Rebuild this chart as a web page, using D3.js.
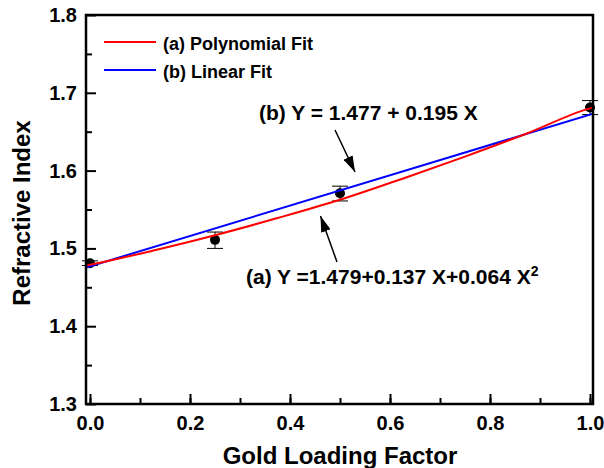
<!DOCTYPE html>
<html>
<head>
<meta charset="utf-8">
<script src="https://cdn.jsdelivr.net/npm/d3@7"></script>
<style>
body { margin: 0; background: #fff; }
text { font-family: Arial, "Liberation Sans", sans-serif; font-weight: bold; fill: #000; }
</style>
</head>
<body>
<svg id="chart" width="604" height="468"></svg>
<script>
// measured points
var loading = [0.0, 0.25, 0.5, 1.0];
var index = [1.481, 1.511, 1.571, 1.681];
var errLow = [0.003, 0.011, 0.010, 0.009];
var errHigh = [0.003, 0.010, 0.009, 0.009];

// fit curves
var polyX = [-0.008, 0.0, 0.125, 0.25, 0.375, 0.5, 0.625, 0.75, 0.875, 1.0, 1.006];
var polyY = [1.478, 1.479, 1.497, 1.517, 1.539, 1.5625, 1.5896, 1.618, 1.648, 1.680, 1.681];
var linX = [-0.008, 1.006];
var linY = [1.4754, 1.6732];

var xTicks = [0.0, 0.2, 0.4, 0.6, 0.8, 1.0];
var yTicks = [1.3, 1.4, 1.5, 1.6, 1.7, 1.8];
var legendLabels = ["(a) Polynomial Fit", "(b) Linear Fit"];
var legendColors = ["#ff0000", "#0000ff"];

var svg = d3.select("#chart");
var pLeft = 86, pRight = 593, pTop = 15, pBottom = 404;

var x = d3.scaleLinear().domain([-0.008, 1.006]).range([pLeft, pRight]);
var y = d3.scaleLinear().domain([1.3, 1.8]).range([pBottom, pTop]);

svg.append("defs").append("clipPath").attr("id", "plotClip")
    .append("rect").attr("x", pLeft).attr("y", pTop)
    .attr("width", pRight - pLeft).attr("height", pBottom - pTop);

// ticks, pointing inward
var xMinor = d3.range(0, 1.01, 0.1);
var yMinor = d3.range(1.35, 1.8, 0.1);

svg.append("g")
    .attr("transform", "translate(0," + pBottom + ")")
    .call(d3.axisTop(x).tickValues(xMinor).tickSize(6).tickFormat(""))
    .call(g => g.select(".domain").remove())
    .selectAll("line").attr("stroke-width", 2);
svg.append("g")
    .attr("transform", "translate(0," + pBottom + ")")
    .call(d3.axisBottom(x).tickValues(xTicks).tickSize(-10).tickPadding(12).tickFormat(d3.format(".1f")))
    .call(g => g.select(".domain").remove())
    .call(g => g.selectAll("text").style("font-size", "20px"))
    .selectAll("line").attr("stroke-width", 2);

svg.append("g")
    .attr("transform", "translate(" + pLeft + ",0)")
    .call(d3.axisRight(y).tickValues(yMinor).tickSize(6).tickFormat(""))
    .call(g => g.select(".domain").remove())
    .selectAll("line").attr("stroke-width", 2);
svg.append("g")
    .attr("transform", "translate(" + pLeft + ",0)")
    .call(d3.axisLeft(y).tickValues(yTicks).tickSize(-10).tickPadding(9).tickFormat(d3.format(".1f")))
    .call(g => g.select(".domain").remove())
    .call(g => g.selectAll("text").style("font-size", "20px"))
    .selectAll("line").attr("stroke-width", 2);

// error bars
var pts = loading.map((d, i) => ({x: d, y: index[i], lo: index[i] - errLow[i], hi: index[i] + errHigh[i]}));
var eb = svg.append("g").attr("stroke", "#000").attr("stroke-width", 1);
eb.selectAll(".stem").data(pts).enter().append("line")
    .attr("x1", d => x(d.x)).attr("x2", d => x(d.x))
    .attr("y1", d => y(d.lo)).attr("y2", d => y(d.hi));
eb.selectAll(".capHi").data(pts).enter().append("line")
    .attr("x1", d => x(d.x) - 8).attr("x2", d => x(d.x) + 8)
    .attr("y1", d => y(d.hi)).attr("y2", d => y(d.hi));
eb.selectAll(".capLo").data(pts).enter().append("line")
    .attr("x1", d => x(d.x) - 8).attr("x2", d => x(d.x) + 8)
    .attr("y1", d => y(d.lo)).attr("y2", d => y(d.lo));

svg.append("g").selectAll("circle").data(pts).enter().append("circle")
    .attr("cx", d => x(d.x)).attr("cy", d => y(d.y)).attr("r", 5)
    .attr("fill", "#000");

// fits
var line = d3.line().x(d => x(d[0])).y(d => y(d[1])).curve(d3.curveMonotoneX);
var fits = svg.append("g").attr("clip-path", "url(#plotClip)");
fits.append("path")
    .datum(linX.map((d, i) => [d, linY[i]]))
    .attr("d", line).attr("fill", "none").attr("stroke", "#0000ff").attr("stroke-width", 2);
fits.append("path")
    .datum(polyX.map((d, i) => [d, polyY[i]]))
    .attr("d", line).attr("fill", "none").attr("stroke", "#ff0000").attr("stroke-width", 2);

// frame
svg.append("rect")
    .attr("x", pLeft).attr("y", pTop)
    .attr("width", pRight - pLeft).attr("height", pBottom - pTop)
    .attr("fill", "none").attr("stroke", "#000").attr("stroke-width", 2.5);

// legend
var leg = svg.append("g");
legendLabels.forEach(function(lab, i) {
    var ly = 42 + i * 28;
    leg.append("line").attr("x1", 104).attr("x2", 156).attr("y1", ly).attr("y2", ly)
        .attr("stroke", legendColors[i]).attr("stroke-width", 2);
    leg.append("text").attr("x", 163).attr("y", ly + 8).style("font-size", "18px").text(lab);
});

// annotations
svg.append("text").attr("x", 259).attr("y", 120).style("font-size", "21px")
    .text("(b) Y = 1.477 + 0.195 X");
var ta = svg.append("text").attr("x", 246).attr("y", 284).style("font-size", "21px");
ta.append("tspan").text("(a) Y =1.479+0.137 X+0.064 X");
ta.append("tspan").attr("dy", -8).style("font-size", "14px").text("2");

svg.select("defs").append("marker")
    .attr("id", "arrow").attr("viewBox", "0 0 16 10").attr("refX", 16).attr("refY", 5)
    .attr("markerWidth", 16).attr("markerHeight", 10).attr("markerUnits", "userSpaceOnUse")
    .attr("orient", "auto")
    .append("path").attr("d", "M0,0 L16,5 L0,10 z").attr("fill", "#000");

svg.append("line").attr("x1", 335).attr("y1", 130).attr("x2", 355).attr("y2", 172)
    .attr("stroke", "#000").attr("stroke-width", 1.5).attr("marker-end", "url(#arrow)");
svg.append("line").attr("x1", 337).attr("y1", 262).attr("x2", 320.5).attr("y2", 216)
    .attr("stroke", "#000").attr("stroke-width", 1.5).attr("marker-end", "url(#arrow)");

// axis titles
svg.append("text").attr("x", 340).attr("y", 464).attr("text-anchor", "middle")
    .style("font-size", "24px").text("Gold Loading Factor");
svg.append("text").attr("transform", "translate(30,213) rotate(-90)").attr("text-anchor", "middle")
    .style("font-size", "24px").text("Refractive Index");
</script>
</body>
</html>
